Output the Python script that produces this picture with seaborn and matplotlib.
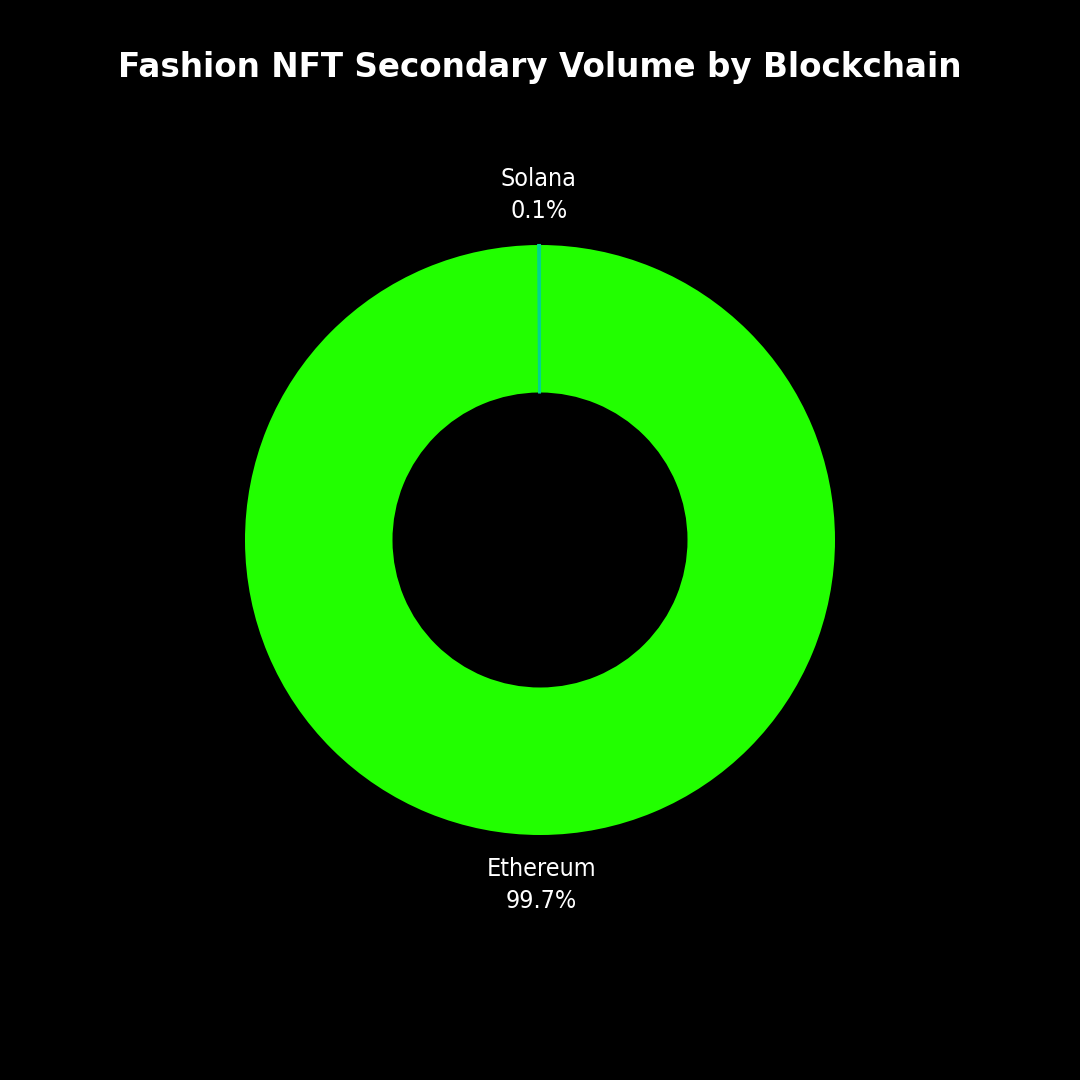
import numpy as np
import matplotlib
matplotlib.use("Agg")
import matplotlib.pyplot as plt
import seaborn as sns
from matplotlib import font_manager

chains = ["Ethereum", "Solana"]
shares = [99.7, 0.1]
colors = ["#22FF00", "#00D68F"]

sns.set_theme(style="dark")
names = {f.name for f in font_manager.fontManager.ttflist}
label_font = "DejaVu Sans"
for cand in ["Liberation Sans Narrow", "DejaVu Sans Condensed"]:
    if cand in names:
        label_font = cand
        break
plt.rcParams["font.family"] = [label_font, "DejaVu Sans"]

fig = plt.figure(figsize=(10.8, 10.8), dpi=100, facecolor="black")
ax = fig.add_axes([0, 0, 1, 1])
ax.set_facecolor("black")

wedges, _ = ax.pie(shares, colors=colors, startangle=90, counterclock=False,
                   wedgeprops=dict(width=0.5, edgecolor="none"))
# the tiny slice gets an edge so it shows as a thin line
wedges[1].set_edgecolor(colors[1])
wedges[1].set_linewidth(1.5)

for w, name, val in zip(wedges, chains, shares):
    ang = np.deg2rad((w.theta1 + w.theta2) / 2)
    r = 1.17
    ax.text(r * np.cos(ang), r * np.sin(ang), f"{name}\n{val}%", color="white",
            fontsize=18, ha="center", va="center", linespacing=1.4,
            fontstretch="condensed", fontweight="medium")

lim = 540 / 295
ax.set_xlim(-lim, lim)
ax.set_ylim(-lim, lim)
ax.set_aspect("equal")
ax.axis("off")

fig.text(0.5, 1 - 68 / 1080, "Fashion NFT Secondary Volume by Blockchain", color="white",
         fontsize=23.5, fontweight="bold", ha="center", va="center", family="DejaVu Sans")

fig.savefig("out.png", dpi=100, facecolor="black")
